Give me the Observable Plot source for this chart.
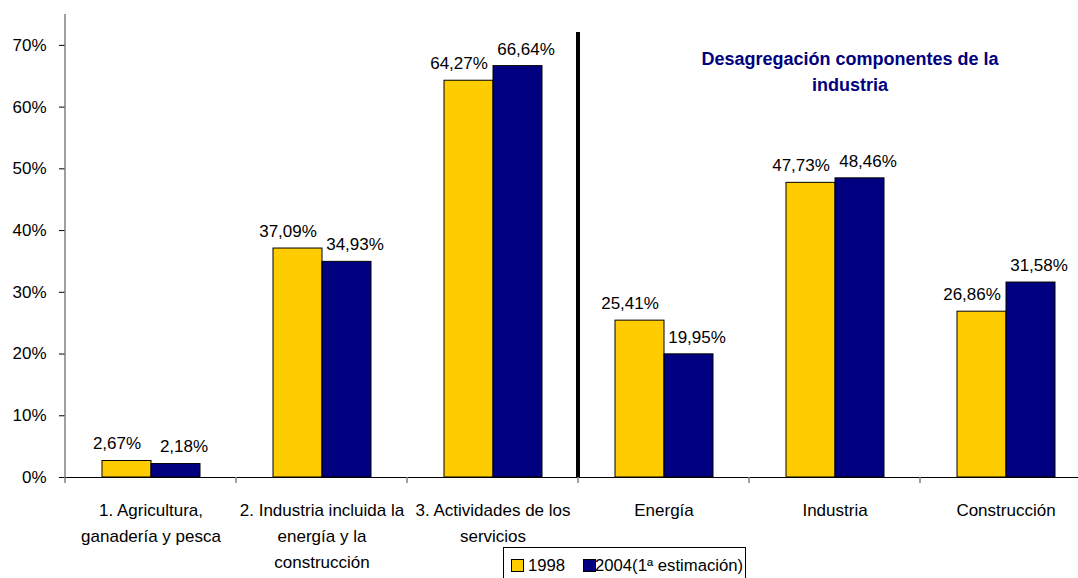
<!DOCTYPE html>
<html>
<head>
<meta charset="utf-8">
<script src="https://cdn.jsdelivr.net/npm/d3@7"></script>
<script src="https://cdn.jsdelivr.net/npm/@observablehq/plot@0.6"></script>
<style>
html, body { margin: 0; padding: 0; overflow: hidden; background: #fff; width: 1078px; height: 578px; }
#wrap { position: relative; width: 1078px; height: 578px; overflow: hidden; }
.narrow { font-family: "Liberation Sans", Arial, sans-serif; }
#title { position: absolute; left: 680px; width: 340px; top: 46px; text-align: center; color: #000080; font-weight: bold; font-size: 18px; line-height: 26px; }
#legend { position: absolute; left: 503px; top: 547px; width: 241px; height: 40px; border: 1px solid #000; background: #fff; font-size: 16.7px; color: #000; }
#legend .sw { position: absolute; width: 11px; height: 11px; border: 1px solid #000; }
#legend .lt { position: absolute; line-height: 20px; white-space: nowrap; }
#chart svg { max-width: none !important; overflow: hidden; }
</style>
</head>
<body>
<div id="wrap" class="narrow">
  <div id="chart"></div>
  <div id="title"></div>
  <div id="legend"></div>
</div>
<script>
// ---- data ----
const categories = [
  "1. Agricultura,\nganadería y pesca",
  "2. Industria incluida la\nenergía y la\nconstrucción",
  "3. Actividades de los\nservicios",
  "Energía",
  "Industria",
  "Construcción"
];
const seriesNames = ["1998", "2004(1ª estimación)"];
const values1998 = [2.67, 37.09, 64.27, 25.41, 47.73, 26.86];
const values2004 = [2.18, 34.93, 66.64, 19.95, 48.46, 31.58];
const yTicks = [0, 10, 20, 30, 40, 50, 60, 70];
const colors = ["#FFCC00", "#000080"];
const titleText = "Desagregación componentes de la\nindustria";

// ---- build table ----
const rows = [];
categories.forEach((c, i) => {
  rows.push({cat: c, series: seriesNames[0], value: values1998[i]});
  rows.push({cat: c, series: seriesNames[1], value: values2004[i]});
});
const fmt = v => v.toFixed(2).replace(".", ",") + "%";
const font = '"Liberation Sans", Arial, sans-serif';

const plot = Plot.plot({
  width: 1102,
  height: 578,
  marginLeft: 64,
  marginRight: 10,
  marginTop: 14,
  marginBottom: 101,
  style: {fontFamily: font, fontSize: "17px", color: "#000", background: "#fff", overflow: "hidden"},
  fx: {domain: categories, padding: 0, label: null},
  x: {domain: seriesNames, paddingInner: 0, paddingOuter: 0.73, axis: null},
  y: {domain: [0, 75], label: null},
  color: {domain: seriesNames, range: colors},
  marks: [
    Plot.barY(rows, {fx: "cat", x: "series", y: "value", fill: "series", stroke: "#000", strokeWidth: 1}),
    Plot.text(rows.filter(d => d.series === seriesNames[0]), {fx: "cat", x: "series", y: "value", text: d => fmt(d.value), dy: -17, dx: -10, fill: "#000"}),
    Plot.text(rows.filter(d => d.series === seriesNames[1]), {fx: "cat", x: "series", y: "value", text: d => fmt(d.value), dy: -17, dx: 8, fill: "#000"}),
    Plot.ruleY([0], {stroke: "#000", strokeWidth: 1}),
    Plot.axisY({ticks: yTicks, tickFormat: d => d + "%", tickSize: 6, tickPadding: 13, label: null, stroke: "#000"}),
    Plot.axisFx({anchor: "bottom", tickSize: 0, tickPadding: 20, lineHeight: 1.53, label: null})
  ]
});
document.getElementById("chart").appendChild(plot);

// ---- axis lines, category separators and divider from the library's scales ----
const fxS = plot.scale("fx");
const yS = plot.scale("y");
const svg = d3.select(plot);
const y0 = yS.apply(0);
const yTop = yS.apply(75);
const left = fxS.apply(categories[0]);
const g = svg.append("g");
g.append("line").attr("x1", left).attr("x2", left).attr("y1", yTop).attr("y2", y0)
  .attr("stroke", "#808080").attr("stroke-width", 1.5);
const bounds = categories.map(c => fxS.apply(c)).concat([fxS.apply(categories[categories.length - 1]) + fxS.bandwidth]);
bounds.forEach(b => {
  g.append("line").attr("x1", b).attr("x2", b).attr("y1", y0).attr("y2", y0 + 6)
    .attr("stroke", "#808080").attr("stroke-width", 1.5);
});
const sepX = fxS.apply("Energía");
g.append("line").attr("x1", sepX).attr("x2", sepX).attr("y1", yS.apply(72.1)).attr("y2", y0)
  .attr("stroke", "#000").attr("stroke-width", 4);

// ---- title ----
document.getElementById("title").innerHTML = titleText.split("\n").join("<br>");

// ---- legend ----
const leg = document.getElementById("legend");
const swLeft = [7, 79];
const txtLeft = [24, 91];
seriesNames.forEach((s, i) => {
  const sw = document.createElement("div");
  sw.className = "sw";
  sw.style.left = swLeft[i] + "px";
  sw.style.top = "11px";
  sw.style.background = colors[i];
  leg.appendChild(sw);
  const t = document.createElement("div");
  t.className = "lt";
  t.style.left = txtLeft[i] + "px";
  t.style.top = "8px";
  t.textContent = s;
  leg.appendChild(t);
});
</script>
</body>
</html>
